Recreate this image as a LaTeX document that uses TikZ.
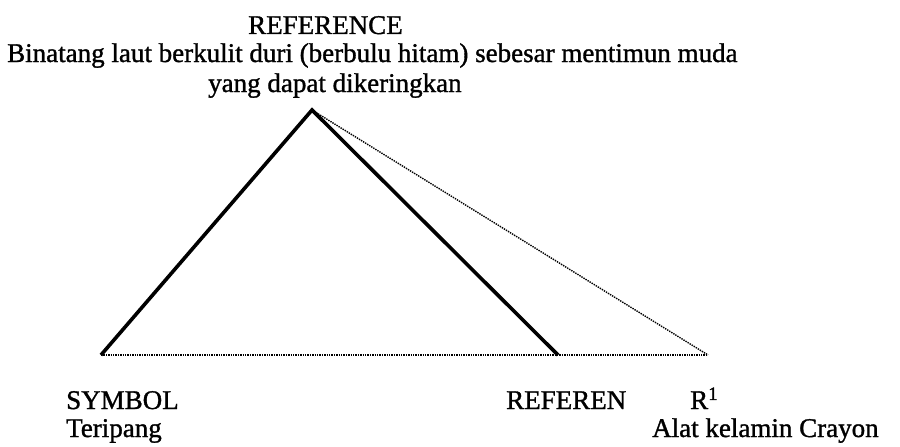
\documentclass[tikz,border=0pt]{standalone}
\usepackage{fontspec}
\setmainfont{Liberation Serif}[FakeBold=1.2]
\usepackage{tikz}
\usetikzlibrary{positioning}
\newcommand{\bigtxt}{\fontsize{27}{31}\selectfont}

\begin{document}
\begin{tikzpicture}[x=1pt,y=-1pt,font=\bigtxt,
 lbl/.style={inner sep=0pt,anchor=base west},
 side/.style={line width=3.6pt,line join=miter},
 dots/.style={densely dotted,line width=1.4pt}]
 \useasboundingbox (0,0) rectangle (900,447);
 % the triangle corners
 \coordinate (top) at (312,110);
 \coordinate (sym) at (101,355);
 \coordinate (ref) at (558,355);
 \coordinate (rone) at (708,355);
 % texts above the top corner
 \node[lbl](title) at (248,34){REFERENCE};
 \node[lbl](mean) at (7,62){Binatang laut berkulit duri (berbulu hitam) sebesar mentimun muda};
 \node[lbl](mean2) at (208,92){yang dapat dikeringkan};
 % texts under the base
 \node[lbl](symtxt) at (66,409){SYMBOL};
 \node[lbl](symword) at (66,437){Teripang};
 \node[lbl](reftxt) at (506,409){REFEREN};
 \node[lbl](ronetxt) at (690,409){R\textsuperscript{1}};
 \node[lbl](roneword) at (652,437){Alat kelamin Crayon};
 \draw[side](sym)--(top)--(ref);
 \draw[dots](top)--(rone);
 \draw[dots](sym)--(rone);
\end{tikzpicture}
\end{document}
